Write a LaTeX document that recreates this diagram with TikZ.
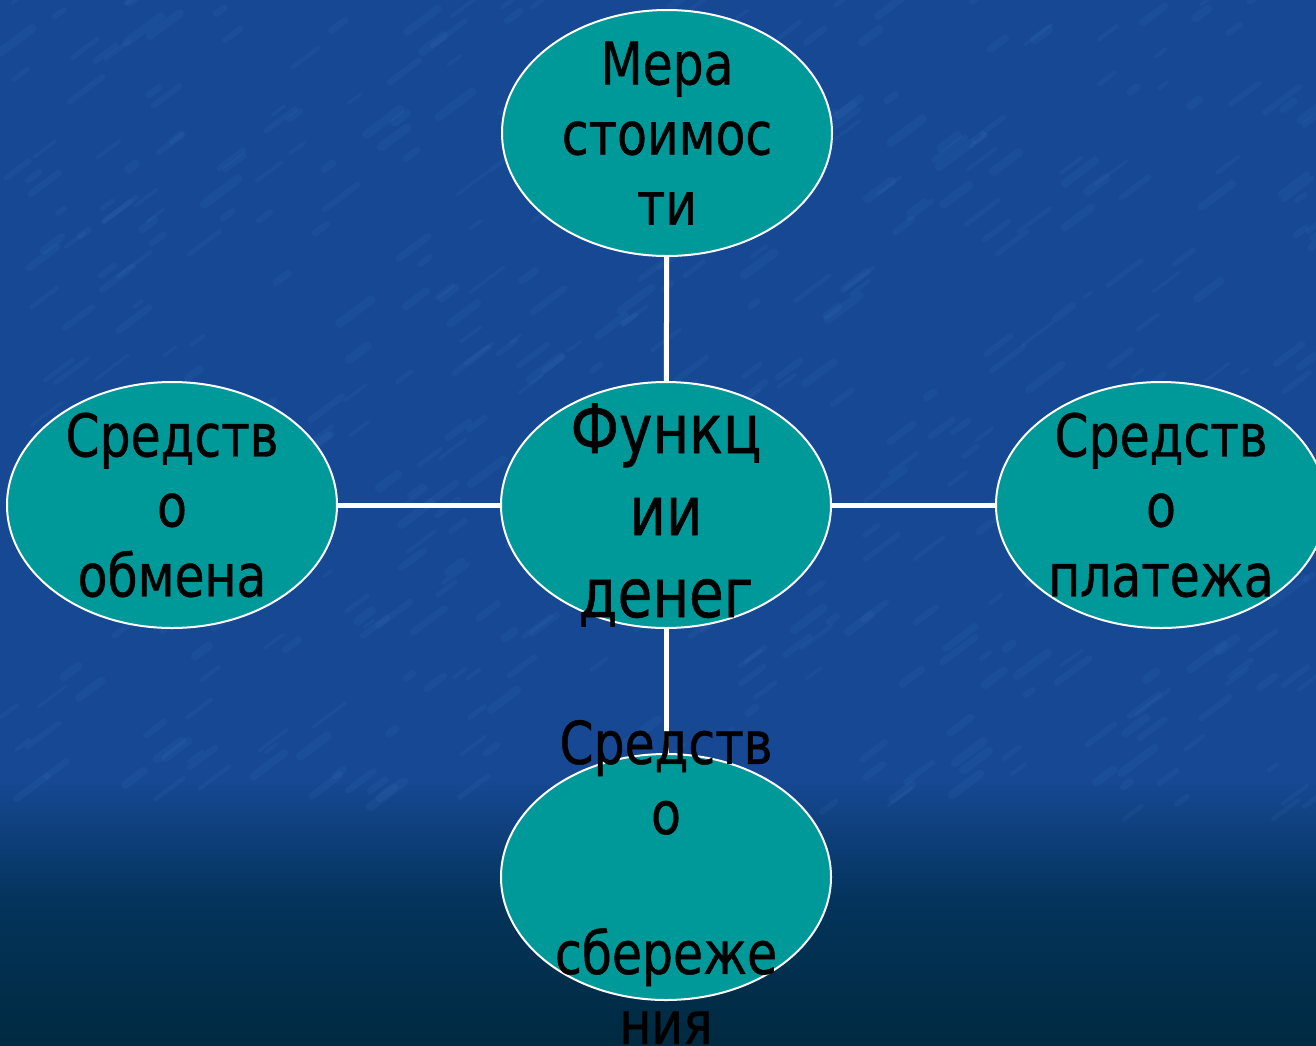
\documentclass[tikz,border=0pt]{standalone}
\usepackage{fontspec}
\setmainfont[FakeStretch=0.92,FakeBold=0.8]{DejaVu Sans Condensed}
\usetikzlibrary{shapes.geometric}
\definecolor{bgA}{RGB}{22,72,148}
\definecolor{bgB}{RGB}{4,52,92}
\definecolor{bgC}{RGB}{0,42,64}
\definecolor{streak}{RGB}{90,150,220}
\definecolor{ovalfill}{RGB}{0,153,153}
\begin{document}
\begin{tikzpicture}[x=1pt,y=-1pt,
  oval/.style={ellipse, draw=white, line width=2pt, fill=ovalfill, minimum width=330pt, minimum height=246pt, inner sep=0pt},
  lbl/.style={align=center, text=black, inner sep=0pt, font=\fontsize{59}{70}\selectfont},
  biglbl/.style={align=center, text=black, inner sep=0pt, font=\fontsize{68}{82}\selectfont},
  link/.style={draw=white, line width=5pt},
  texture/.style={draw=streak, line cap=round, opacity=0.08}]
\useasboundingbox (0,0) rectangle (1316,1045);
\fill[bgA] (0,0) rectangle (1316,780);
\shade[top color=bgA, bottom color=bgB] (0,779) rectangle (1316,900);
\shade[top color=bgB, bottom color=bgC] (0,899) rectangle (1316,1045);
\pgfmathsetseed{11}
\foreach \i in {1,...,500}{
  \pgfmathsetmacro{\sx}{rnd*1316}
  \pgfmathsetmacro{\sy}{rnd*820}
  \pgfmathsetmacro{\sl}{8+rnd*35}
  \pgfmathsetmacro{\sw}{3+rnd*6}
  \draw[texture, line width=\sw pt] (\sx,\sy) -- ++(\sl*0.8,-\sl*0.6);
}
\node[oval] (top) at (667,133) {};
\node[oval] (mid) at (666,505) {};
\node[oval] (left) at (172,505) {};
\node[oval] (right) at (1161,505) {};
\node[oval] (bot) at (666,877) {};
\draw[link] (top) -- (mid);
\draw[link] (mid) -- (bot);
\draw[link] (left) -- (mid);
\draw[link] (mid) -- (right);
\node[lbl] (ttop) at (top.center) {Мера\\стоимос\\ти};
\node[biglbl] (tmid) at (666,515) {Функц\\ии\\денег};
\node[lbl] (tleft) at (left.center) {Средств\\о\\обмена};
\node[lbl] (tright) at (right.center) {Средств\\о\\платежа};
\node[lbl] (tbot) at (666,882) {Средств\\о\\\mbox{}\\сбереже\\ния};
\end{tikzpicture}
\end{document}
